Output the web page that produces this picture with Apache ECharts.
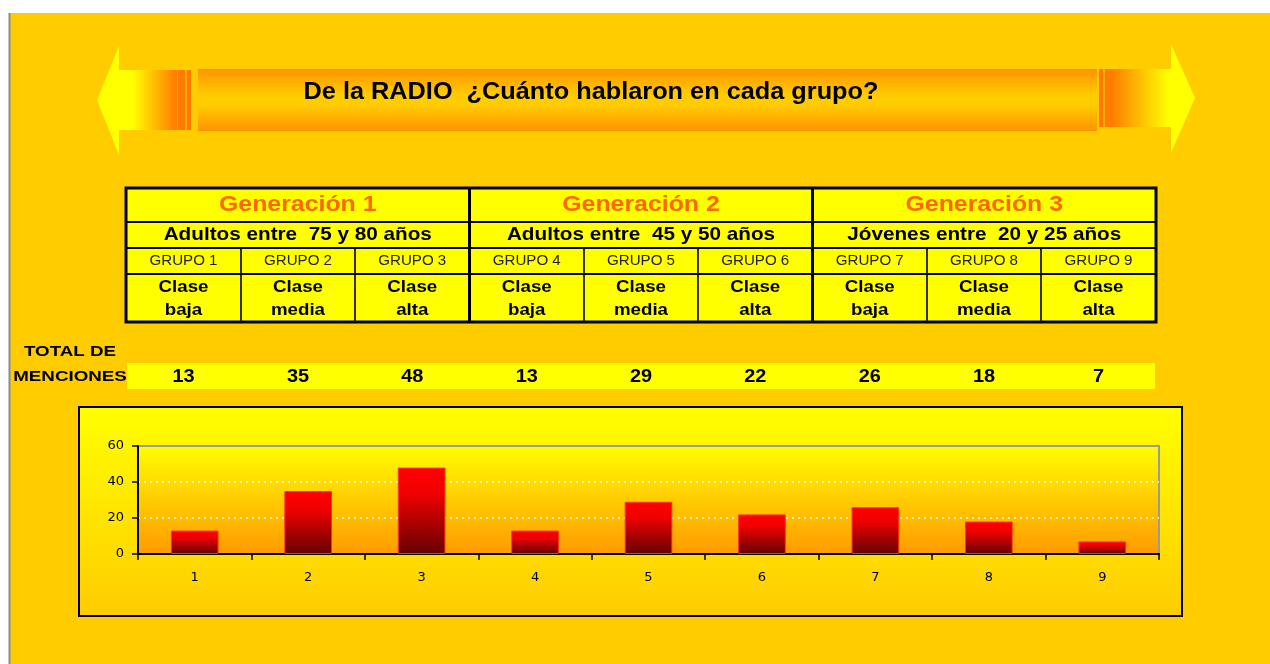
<!DOCTYPE html>
<html><head><meta charset="utf-8">
<script src="https://cdn.jsdelivr.net/npm/echarts@6/dist/echarts.min.js"></script>
<style>html,body{margin:0;padding:0;background:#fff;}#c{width:1270px;height:664px;}</style>
</head><body><div id="c"></div>
<script>
const titleText = 'De la RADIO  ¿Cuánto hablaron en cada grupo?';
const generations = ['Generación 1', 'Generación 2', 'Generación 3'];
const ageRanges = ['Adultos entre  75 y 80 años', 'Adultos entre  45 y 50 años', 'Jóvenes entre  20 y 25 años'];
const groupNames = ['GRUPO 1', 'GRUPO 2', 'GRUPO 3', 'GRUPO 4', 'GRUPO 5', 'GRUPO 6', 'GRUPO 7', 'GRUPO 8', 'GRUPO 9'];
const classNames = ['baja', 'media', 'alta', 'baja', 'media', 'alta', 'baja', 'media', 'alta'];
const totalLabel = ['TOTAL DE', 'MENCIONES'];
const categories = ['1', '2', '3', '4', '5', '6', '7', '8', '9'];
const mentions = [13, 35, 48, 13, 29, 22, 26, 18, 7];
const yMin = 0, yMax = 60, yStep = 20;

const FONT = '"Liberation Sans", Arial, sans-serif';
const AXFONT = '"DejaVu Sans", sans-serif';
const chart = echarts.init(document.getElementById('c'));
const LG = echarts.graphic.LinearGradient;

const g = [];
// page background
g.push({type: 'rect', z: -20, shape: {x: 0, y: 0, width: 1270, height: 664}, style: {fill: '#fff'}});
g.push({type: 'rect', z: -19, shape: {x: 10, y: 13, width: 1260, height: 651}, style: {fill: '#FFCC00'}});
g.push({type: 'rect', z: -19, shape: {x: 8.5, y: 13, width: 2, height: 651}, style: {fill: '#8a8a8a'}});

// banner
g.push({type: 'polygon', z: 5, shape: {points: [[97, 100], [119, 46], [119, 70], [191, 70], [191, 130], [119, 130], [119, 155]]},
  style: {fill: new LG(97, 0, 191, 0, [{offset: 0, color: '#FFFF00'}, {offset: 0.38, color: '#FFFF00'}, {offset: 0.82, color: '#FF8000'}, {offset: 1, color: '#FF7700'}], true)}});
g.push({type: 'rect', z: 6, shape: {x: 177, y: 70, width: 1, height: 60}, style: {fill: '#FFA000'}});
g.push({type: 'rect', z: 6, shape: {x: 185, y: 70, width: 2, height: 60}, style: {fill: '#FFB000'}});
g.push({type: 'polygon', z: 5, shape: {points: [[1099, 69], [1171, 69], [1171, 44], [1195, 98], [1171, 153], [1171, 127], [1099, 127]]},
  style: {fill: new LG(1099, 0, 1195, 0, [{offset: 0, color: '#FF7700'}, {offset: 0.15, color: '#FF8000'}, {offset: 0.72, color: '#FFFF00'}, {offset: 1, color: '#FFFF00'}], true)}});
g.push({type: 'rect', z: 6, shape: {x: 1103, y: 69, width: 2, height: 58}, style: {fill: '#FFB000'}});
g.push({type: 'rect', z: 5, shape: {x: 198, y: 69, width: 899, height: 62},
  style: {fill: new LG(0, 0, 0, 1, [{offset: 0, color: '#FF9400'}, {offset: 0.42, color: '#FFCC00'}, {offset: 0.58, color: '#FFCC00'}, {offset: 1, color: '#FF9400'}])}});
g.push({type: 'text', z: 7, x: 591, y: 93, scaleX: 1.1,
  style: {text: titleText, fill: '#000', fontSize: 23, fontWeight: 'bold', fontFamily: FONT, textAlign: 'center', textVerticalAlign: 'middle'}});

// table
const tL = 126, tR = 1156, tT = 188, tB = 322;
const genX = [126, 469.5, 812.5, 1156];
const colX = [126, 241, 355, 469.5, 584, 698, 812.5, 927, 1041, 1156];
g.push({type: 'rect', z: 5, shape: {x: tL, y: tT, width: tR - tL, height: tB - tT}, style: {fill: '#FFFF00'}});
[222, 248, 274].forEach(y => g.push({type: 'line', z: 6, shape: {x1: tL, y1: y, x2: tR, y2: y}, style: {stroke: '#000', lineWidth: 2}}));
[1, 2, 4, 5, 7, 8].forEach(i => g.push({type: 'line', z: 6, shape: {x1: colX[i], y1: 248, x2: colX[i], y2: tB}, style: {stroke: '#000', lineWidth: 1.6}}));
[genX[1], genX[2]].forEach(x => g.push({type: 'line', z: 7, shape: {x1: x, y1: tT, x2: x, y2: tB}, style: {stroke: '#000', lineWidth: 3}}));
g.push({type: 'rect', z: 7, shape: {x: tL, y: tT, width: tR - tL, height: tB - tT}, style: {fill: null, stroke: '#000', lineWidth: 3}});
generations.forEach((t, i) => {
  const cx = (genX[i] + genX[i + 1]) / 2;
  g.push({type: 'text', z: 8, x: cx, y: 205, scaleX: 1.13,
    style: {text: t, fill: '#FF6600', fontSize: 22, fontWeight: 'bold', fontFamily: FONT, textAlign: 'center', textVerticalAlign: 'middle'}});
  g.push({type: 'text', z: 8, x: cx, y: 235, scaleX: 1.09,
    style: {text: ageRanges[i], fill: '#000', fontSize: 19, fontWeight: 'bold', fontFamily: FONT, textAlign: 'center', textVerticalAlign: 'middle'}});
});
groupNames.forEach((t, i) => {
  const cx = (colX[i] + colX[i + 1]) / 2;
  g.push({type: 'text', z: 8, x: cx, y: 261.5, scaleX: 1.08,
    style: {text: t, fill: '#222', fontSize: 14, fontFamily: FONT, textAlign: 'center', textVerticalAlign: 'middle'}});
  g.push({type: 'text', z: 8, x: cx, y: 287, scaleX: 1.1,
    style: {text: 'Clase', fill: '#000', fontSize: 17, fontWeight: 'bold', fontFamily: FONT, textAlign: 'center', textVerticalAlign: 'middle'}});
  g.push({type: 'text', z: 8, x: cx, y: 310, scaleX: 1.1,
    style: {text: classNames[i], fill: '#000', fontSize: 17, fontWeight: 'bold', fontFamily: FONT, textAlign: 'center', textVerticalAlign: 'middle'}});
});

// totals row
g.push({type: 'rect', z: 5, shape: {x: 127, y: 363, width: 1028, height: 26}, style: {fill: '#FFFF00'}});
g.push({type: 'text', z: 8, x: 70, y: 352, scaleX: 1.25,
  style: {text: totalLabel[0], fill: '#000', fontSize: 15, fontWeight: 'bold', fontFamily: FONT, textAlign: 'center', textVerticalAlign: 'middle'}});
g.push({type: 'text', z: 8, x: 70, y: 377, scaleX: 1.25,
  style: {text: totalLabel[1], fill: '#000', fontSize: 15, fontWeight: 'bold', fontFamily: FONT, textAlign: 'center', textVerticalAlign: 'middle'}});
mentions.forEach((v, i) => {
  const cx = (colX[i] + colX[i + 1]) / 2;
  g.push({type: 'text', z: 8, x: cx, y: 377, scaleX: 1.05,
    style: {text: String(v), fill: '#000', fontSize: 19, fontWeight: 'bold', fontFamily: FONT, textAlign: 'center', textVerticalAlign: 'middle'}});
});

// chart box
g.push({type: 'rect', z: -5, shape: {x: 79, y: 407, width: 1103, height: 209},
  style: {fill: new LG(0, 0, 0, 1, [{offset: 0, color: '#FFFF00'}, {offset: 1, color: '#FFCC00'}]), stroke: '#000', lineWidth: 2}});

chart.setOption({
  animation: false,
  graphic: {elements: g},
  grid: {left: 138, right: 111, top: 446, bottom: 110, show: true, borderColor: '#9a9a9a', borderWidth: 2,
    backgroundColor: new LG(0, 0, 0, 1, [{offset: 0, color: '#FFFF00'}, {offset: 1, color: '#FF9900'}])},
  xAxis: {type: 'category', data: categories,
    axisLine: {lineStyle: {color: '#000', width: 2}},
    axisTick: {show: true, length: 6, lineStyle: {color: '#000', width: 1.5}},
    axisLabel: {color: '#000', fontSize: 13, fontFamily: AXFONT, margin: 17},
    splitLine: {show: false}},
  yAxis: {type: 'value', min: yMin, max: yMax, interval: yStep,
    axisLine: {show: true, lineStyle: {color: '#000', width: 2}},
    axisTick: {show: true, length: 6, lineStyle: {color: '#000', width: 1.5}},
    axisLabel: {color: '#000', fontSize: 13, fontFamily: AXFONT, margin: 14},
    splitLine: {show: true, showMinLine: false, showMaxLine: false, lineStyle: {color: '#ffffff', type: [2, 4], width: 1.5}}},
  series: [{type: 'bar', data: mentions, barWidth: '42%',
    itemStyle: {color: new LG(0, 0, 0, 1, [{offset: 0, color: '#FF0000'}, {offset: 0.3, color: '#F00000'}, {offset: 1, color: '#650000'}]),
      borderColor: '#FF3300', borderWidth: 1}}]
});
</script></body></html>
